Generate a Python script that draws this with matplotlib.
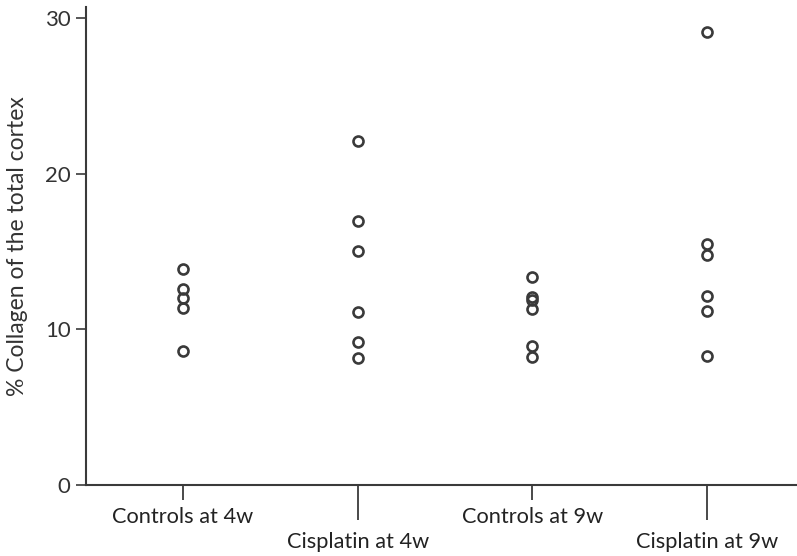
import matplotlib
matplotlib.use("Agg")
import matplotlib.pyplot as plt

groups = ["Controls at 4w", "Cisplatin at 4w", "Controls at 9w", "Cisplatin at 9w"]
controls_4w = [13.85, 12.57, 11.99, 11.35, 8.63]
cisplatin_4w = [22.11, 16.96, 15.0, 11.13, 9.2, 8.14]
controls_9w = [13.38, 12.09, 11.88, 11.30, 8.95, 8.24]
cisplatin_9w = [29.07, 15.48, 14.77, 12.16, 11.19, 8.30]
series = [controls_4w, cisplatin_4w, controls_9w, cisplatin_9w]
y_ticks = [0, 10, 20, 30]

plt.rcParams["font.family"] = ["Lato", "DejaVu Sans"]
ink = "#3a3a3a"

fig = plt.figure(figsize=(7.97, 5.56), dpi=100)
ax = fig.add_axes([0.1079, 0.1277, 0.8921, 0.8597])

for i, vals in enumerate(series):
    ax.plot([i] * len(vals), vals, linestyle="none", marker="o", markersize=7.2,
            markerfacecolor="none", markeredgecolor=ink, markeredgewidth=1.9)

ax.set_xlim(-0.555, 3.515)
ax.set_ylim(0, 30.7)
ax.set_yticks(y_ticks)

# controls get short ticks, cisplatin long ticks so the labels stagger
ax.set_xticks([0, 2], [groups[0], groups[2]])
ax.set_xticks([1, 3], [groups[1], groups[3]], minor=True)

for side in ["top", "right"]:
    ax.spines[side].set_visible(False)
for side in ["left", "bottom"]:
    ax.spines[side].set_color(ink)
    ax.spines[side].set_linewidth(1.5)

ax.tick_params(axis="y", length=7, width=1.2, color=ink, labelsize=16, labelcolor="#333333", pad=4)
ax.tick_params(axis="x", which="major", length=11, width=1.3, color=ink,
               labelsize=15.7, labelcolor="#222222", pad=5)
ax.tick_params(axis="x", which="minor", length=25, width=1.3, color=ink,
               labelsize=15.7, labelcolor="#222222", pad=8.5)

ax.set_ylabel("% Collagen of the total cortex", fontsize=16.5, color="#333333", labelpad=12)

fig.savefig("out.png", dpi=100)
